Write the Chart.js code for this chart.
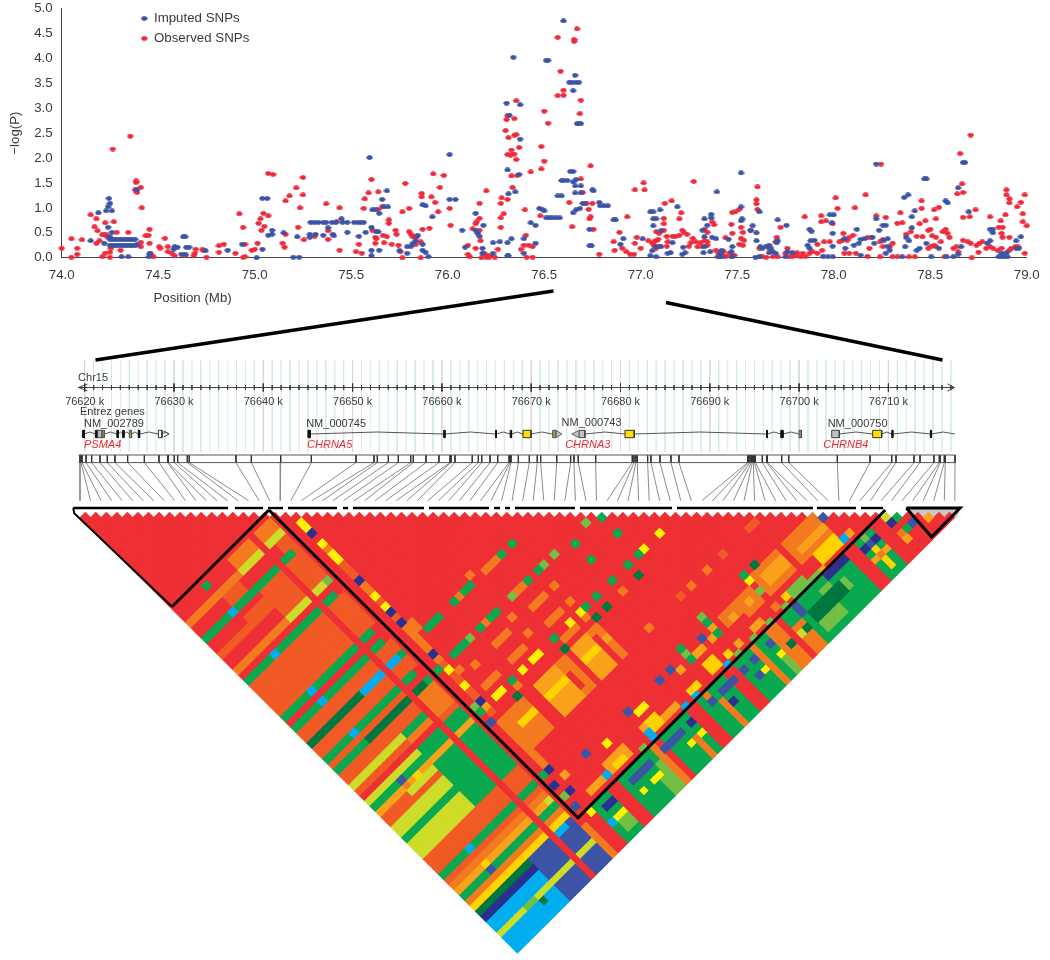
<!DOCTYPE html>
<html><head><meta charset="utf-8">
<style>html,body{margin:0;padding:0;background:#fff;width:1050px;height:960px;overflow:hidden}
#wrap{position:relative;width:1050px;height:960px}
canvas{position:absolute;left:0;filter:blur(.3px)}
#low{top:280px}#top{top:0}</style>
<script src="https://cdn.jsdelivr.net/npm/chart.js@4/dist/chart.umd.js"></script>
</head><body><div id="wrap"><canvas id="low" width="1050" height="680" style="width:1050px;height:680px"></canvas><canvas id="top" width="1050" height="320" style="width:1050px;height:320px"></canvas></div>
<script>
// ---------- Manhattan panel data (position in Mb, -log P) ----------
const imputedSNPs=[[74.19,.9],[74.245,1.19],[74.25,1.09],[74.24,1.02],[74.23,.94],[74.26,.94],[74.24,.61],[74.15,.34],[74.22,.29],
[74.25,.37],[74.262,.37],[74.274,.37],[74.286,.37],[74.298,.37],[74.31,.37],[74.322,.37],[74.334,.37],[74.346,.37],[74.358,.37],[74.37,.37],[74.38,.37],
[74.25,.25],[74.262,.25],[74.274,.25],[74.286,.25],[74.298,.25],[74.31,.25],[74.322,.25],[74.334,.25],[74.346,.25],[74.358,.25],[74.37,.25],[74.382,.25],[74.39,.26],
[74.26,.51],[74.25,.42],[74.31,.02],[74.345,.02],[74.39,1.36],[74.455,.08],[74.452,.02],[74.585,.22],[74.6,.21],[74.58,.17],[74.63,.42],[74.64,.42],[74.645,.21],[74.66,.21],[74.62,.07],[74.64,.07],[74.745,.14],[74.86,.15],[74.935,.27],[75.01,0],[75.04,1.19],[75.065,1.19],[75.04,.17],[75.09,.55],[75.07,.45],[75.09,.47],[75.15,.5],[75.22,.42],[75.2,.01],[75.23,.01],
[75.29,.71],[75.31,.71],[75.33,.71],[75.355,.71],[75.37,.71],[75.4,.71],[75.42,.71],[75.285,.47],[75.285,.41],[75.315,.47],[75.355,.45],[75.38,.6],[75.405,.47],[75.41,.44],[75.45,.78],[75.455,.71],[75.48,.71],[75.515,.71],[75.535,.71],[75.55,.71],[75.565,.71],[75.48,.51],[75.54,.43],[75.575,.51],[75.595,2.01],[75.605,.61],[75.63,.52],[75.64,.52],[75.605,.15],[75.605,.04],[75.645,.15],[75.61,.96],[75.625,.96],[75.645,.89],[75.66,1.17],[75.67,1.02],[75.69,1.02],[75.685,1.34],[75.75,.14],[75.79,.09],[75.79,.22],[75.81,.23],[75.82,.29],[75.835,.34],[75.845,.45],[75.87,.27],[75.87,.15],[75.885,.11],[75.9,.02],[75.87,1.06],[75.885,1.04],[75.92,.82],[76.01,2.07],[76.01,1.17],[76.04,1.17],[76.075,.55],[76.09,.21],[76.145,.89],[76.145,.55],[76.155,.49],[76.165,.43],[76.185,.65],[76.18,.19],[76.18,.09],[76.235,.3],[76.27,.32],[76.31,.3],[76.33,.38],[76.31,.04],[76.315,.04],[76.235,.09],[76.305,3.1],[76.32,2.86],[76.375,3.07],[76.34,4.02],[76.375,2.38],[76.31,1.76],[76.37,1.67],[76.315,1.28],[76.35,1.32],[76.395,.38],[76.395,.09],[76.43,.7],[76.455,.65],[76.455,.29],[76.475,.99],
[76.51,3.96],[76.52,3.96],[76.6,4.75],[76.66,3.66],[76.63,3.52],[76.645,3.52],[76.665,3.52],[76.68,3.52],[76.65,3.35],[76.67,2.69],[76.68,2.69],[76.69,2.69],[76.49,.97],[76.5,.94],[76.51,.8],[76.525,.8],[76.54,.8],[76.56,.8],[76.58,.8],[76.635,1.73],[76.65,1.73],[76.59,1.55],[76.6,1.55],[76.62,1.55],[76.65,1.52],[76.665,1.57],[76.57,1.24],[76.59,1.24],[76.66,1.44],[76.69,1.44],[76.66,1.3],[76.69,1.3],[76.75,1.36],[76.755,1.34],[76.7,1.09],[76.71,1.09],[76.65,.9],[76.665,.96],[76.685,.99],[76.785,1.11],[76.79,1.04],[76.81,1.04],[76.83,1.04],[76.735,.57],[76.735,.24],[76.745,.24],[76.86,.76],[76.87,.76],[76.91,.38],[76.895,.27],[77.01,.38],[77.05,.92],[77.065,.92],[77.065,.78],[77.08,.78],[77.1,.96],[77.065,.64],[77.105,.54],[77.05,.04],[77.08,.02],[77.06,.14],[77.19,1.02],[77.155,.1],[77.14,.09],[77.22,.21],[77.215,.07],[77.23,.1],[77.08,.22],[77.105,.22],[77.165,.3],[77.33,.78],[77.365,.87],[77.365,.8],[77.345,.65],[77.32,.55],[77.33,.42],[77.37,.41],[77.39,.38],[77.395,1.32],[77.33,.22],[77.325,.1],[77.36,.12],[77.405,.02],[77.41,.02],[77.42,.02],[77.415,.1],[77.42,.15],[77.455,.37],[77.475,.22],[77.47,.12],[77.475,.02],[77.52,1.7],[77.52,1.02],[77.525,.78],[77.52,.74],[77.58,.64],[77.57,.55],[77.6,.5],[77.6,.34],[77.615,.92],[77.71,.76],[77.755,.65],[77.595,.01],[77.615,.02],[77.62,.22],[77.65,.23],[77.665,.25],[77.675,.19],[77.63,.19],[77.665,.1],[77.685,.12],[77.7,.09],[77.71,.34],[77.705,.3],[77.76,.12],[77.785,.1],[77.75,.02],[77.875,.57],[77.885,.53],[77.88,.34],[77.9,.35],[77.865,.25],[77.875,.19],[77.945,.03],[77.97,.02],[77.995,.02],[77.98,.86],[78,.86],[77.99,.7],[77.995,.49],[77.995,.23],[78.06,.19],[78.055,.38],[78.105,.25],[78.12,.57],[78.13,.29],[78.14,.37],[78.16,.38],[78.14,.05],[78.2,.41],[78.21,.29],[78.235,.55],[78.22,.78],[78.22,1.88],[78.255,.65],[78.27,.65],[78.28,.38],[78.26,.35],[78.28,.23],[78.27,.09],[78.29,.15],[78.355,.02],[78.365,1.21],[78.385,1.26],[78.375,.41],[78.39,.34],[78.37,.22],[78.405,.82],[78.42,.94],[78.405,.6],[78.43,.15],[78.445,.19],[78.47,1.58],[78.48,1.58],[78.48,.29],[78.505,.02],[78.545,.19],[78.58,1.14],[78.59,1.1],[78.585,.02],[78.62,.02],[78.645,.07],[78.66,.22],[78.645,1.4],[78.67,1.91],[78.68,1.91],[78.7,.92],[78.81,.57],[78.825,.57],[78.825,.5],[78.81,.34],[78.795,.29],[78.855,.02],[78.87,.02],[78.885,.02],[78.9,.02],[78.87,.09],[78.895,.1],[78.945,.34],[78.97,.42],[78.945,.19],[78.96,.19]];
const observedSNPs=[[74,.19],[74.05,.01],[74.05,.38],[74.08,.19],[74.08,.07],[74.105,.36],[74.15,.86],[74.18,.78],[74.17,.62],[74.185,.54],[74.225,.7],[74.27,.72],[74.21,.46],[74.23,.46],[74.195,.34],[74.18,.29],[74.22,.46],[74.235,.42],[74.265,2.18],[74.355,2.44],[74.285,.51],[74.345,.51],[74.21,.02],[74.225,.09],[74.25,.11],[74.25,.01],[74.255,.19],[74.305,.15],[74.385,1.54],[74.385,1.51],[74.41,1.41],[74.38,1.36],[74.39,1.31],[74.415,1],[74.455,.57],[74.435,.44],[74.45,.45],[74.41,.31],[74.41,.22],[74.455,.29],[74.46,.09],[74.475,.02],[74.465,.04],[74.505,.22],[74.51,.19],[74.535,.39],[74.55,.22],[74.55,.12],[74.57,.09],[74.585,.04],[74.64,.04],[74.685,.04],[74.695,.17],[74.69,.09],[74.73,.17],[74.735,.14],[74.75,.01],[74.815,.24],[74.84,.27],[74.815,.11],[74.9,.09],[74.92,.88],[74.94,.61],[74.94,.01],[74.95,.02],[74.95,.27],[74.985,.15],[75,.17],[75.015,.29],[75.02,.69],[75.03,.78],[75.045,.89],[75.07,.84],[75.035,.55],[75.05,.63],[75.07,1.69],[75.095,1.67],[75.16,1.14],[75.18,1.24],[75.215,1.4],[75.25,1.26],[75.25,1.61],[75.235,1],[75.16,.47],[75.145,.29],[75.155,.21],[75.225,.61],[75.255,.36],[75.31,.43],[75.37,1.08],[75.38,.54],[75.38,.37],[75.425,.72],[75.44,1],[75.44,.15],[75.525,.12],[75.54,.27],[75.555,.09],[75.57,1.18],[75.565,.99],[75.59,1.3],[75.605,1.57],[75.61,.55],[75.625,.41],[75.64,1.32],[75.64,.97],[75.625,.29],[75.63,.38],[75.66,1.02],[75.665,.45],[75.67,.3],[75.685,.42],[75.695,.76],[75.695,.69],[75.71,.27],[75.73,.55],[75.735,.47],[75.745,.25],[75.755,.12],[75.765,.92],[75.765,0],[75.78,1.49],[75.8,.99],[75.8,.52],[75.81,.47],[75.82,.42],[75.83,.41],[75.84,.42],[75.86,.32],[75.835,.27],[75.86,0],[75.865,1.29],[75.865,1.22],[75.87,.57],[75.905,.59],[75.915,1.22],[75.925,1.68],[75.935,1.11],[75.95,.92],[75.96,1.41],[75.98,1.65],[76.01,.99],[76.015,.65],[76.105,.25],[76.105,.07],[76.115,.02],[76.145,.19],[76.13,.58],[76.145,.68],[76.15,.72],[76.165,1.09],[76.165,.79],[76.165,.55],[76.17,.34],[76.175,0],[76.19,.09],[76.2,.01],[76.21,.04],[76.215,.01],[76.23,.04],[76.245,.01],[76.2,1.34],[76.26,.17],[76.275,.61],[76.275,.8],[76.29,.88],[76.28,1.2],[76.275,1.09],[76.31,1.17],[76.336,1.41],[76.355,3.15],[76.305,2.77],[76.31,2.85],[76.345,2.79],[76.3,2.55],[76.315,2.41],[76.345,2.46],[76.355,2.47],[76.37,2.21],[76.33,2.16],[76.31,2.07],[76.325,2.06],[76.345,2.08],[76.355,1.97],[76.33,1.64],[76.36,1.65],[76.4,.96],[76.43,1.72],[76.405,.45],[76.38,.17],[76.395,.25],[76.42,.25],[76.44,.22],[76.41,.01],[76.44,.01],
[76.57,4.42],[76.67,4.59],[76.655,4.38],[76.655,4.34],[76.585,3.74],[76.6,3.36],[76.6,3.26],[76.57,3.25],[76.69,3.16],[76.5,2.94],[76.52,2.7],[76.685,2.89],[76.485,2.23],[76.5,1.94],[76.485,1.78],[76.74,1.84],[76.69,1.58],[76.7,1.31],[76.63,1.11],[76.72,1.09],[76.75,1.09],[76.73,.97],[76.74,.82],[76.735,.78],[76.755,.57],[76.645,.62],[76.48,.84],[76.785,.07],[76.86,.32],[76.865,.15],[76.89,.51],[76.905,.19],[76.925,.12],[76.945,.07],[76.965,.07],[76.93,.82],[76.97,1.36],[77.015,1.5],[77.02,1.36],[76.98,.41],[76.97,.29],[77,.19],
[77.04,.34],[77.06,.29],[77.07,.32],[77.08,.34],[77.09,.37],[77.07,.23],[77.08,.19],[77.095,.23],[77.12,.79],[77.12,.68],[77.08,.52],[77.095,.49],[77.12,.55],[77.125,1.09],[77.16,1.14],[77.21,.9],[77.2,.78],[77.135,.43],[77.14,.32],[77.165,.43],[77.18,.43],[77.2,.45],[77.135,.23],[77.215,.55],[77.225,.5],[77.24,.47],[77.27,.39],[77.26,.3],[77.25,.23],[77.275,1.53],[77.285,.32],[77.31,.3],[77.33,.34],[77.345,.32],[77.295,.22],[77.32,.22],[77.345,.25],[77.33,.57],[77.345,.51],[77.37,.72],[77.38,.66],[77.44,.4],[77.47,.67],[77.475,.91],[77.49,.92],[77.51,.97],[77.475,.49],[77.52,.61],[77.53,.51],[77.52,.39],[77.535,.35],[77.51,.27],[77.53,.25],[77.57,.55],[77.6,1.16],[77.6,1.08],[77.605,1.42],[77.605,.97],[77.39,.15],[77.405,.09],[77.42,.05],[77.43,.12],[77.44,.03],[77.46,.09],[77.47,.02],[77.485,.05],[77.4,.02],[77.725,.61],[77.705,.41],[77.7,.32],[77.615,.19],[77.665,.19],[77.71,.02],[77.685,.02],[77.63,.02],[77.65,.01],[77.76,.19],[77.75,.09],[77.77,.02],[77.805,.05],[77.83,.02],[77.84,.09],[77.855,.03],[77.875,.09],[77.89,.12],[77.915,.09],[77.94,.15],[77.81,.1],[77.785,.03],[77.85,.82],[77.915,.27],[77.95,.32],[77.98,.32],[77.935,.84],[77.935,.72],[77.96,.74],[77.995,.68],[78.01,1.2],[78.02,.99],[78.03,.32],[78.045,.35],[78.05,.49],[78.07,.35],[78.08,.41],[78.1,.45],[78.055,.09],[78.08,.09],[78.115,.09],[78.11,1],[78.165,1.26],[78.175,.4],[78.195,.41],[78.185,.19],[78.175,.03],[78.22,.84],[78.27,.81],[78.245,1.88],[78.24,.32],[78.255,.37],[78.29,.22],[78.305,.29],[78.33,.69],[78.355,.7],[78.345,.9],[78.24,.02],[78.255,.22],[78.305,.02],[78.33,.02],[78.39,.02],[78.42,.02],[78.375,.47],[78.4,.52],[78.43,.43],[78.46,.42],[78.445,.68],[78.475,.74],[78.455,.99],[78.455,1.14],[78.49,.55],[78.5,.57],[78.53,.41],[78.51,.44],[78.53,.78],[78.52,.96],[78.545,1.01],[78.52,.25],[78.53,.22],[78.505,.23],[78.49,.19],[78.565,.52],[78.58,.57],[78.59,.49],[78.6,.41],[78.555,.32],[78.575,.02],[78.62,.19],[78.635,.22],[78.645,.12],[78.64,1.28],[78.655,2.09],[78.665,1.48],[78.67,1.31],[78.71,2.46],[78.67,.81],[78.705,.82],[78.735,.96],[78.67,.35],[78.695,.32],[78.71,.29],[78.74,.25],[78.715,0],[78.81,.82],[78.865,.74],[78.855,.61],[78.875,.61],[78.87,.49],[78.875,.41],[78.91,.41],[78.895,1.36],[78.895,1.26],[78.91,1.18],[78.91,1.1],[78.97,1.11],[78.99,1.26],[78.95,1.02],[78.89,.86],[78.98,.88],[78.98,.72],[79,.64],[78.755,.29],[78.77,.32],[78.79,.19],[78.81,.22],[78.825,.19],[78.75,.11],[78.85,.15],[78.87,.19],[78.91,.15],[78.94,.22],[78.955,.22],[78.99,.09],[78.92,.19]];
const legendNames=['Imputed SNPs','Observed SNPs'];

// ---------- Gene track data (kb on chr15) ----------
const kbTickLabels=[76620,76630,76640,76650,76660,76670,76680,76690,76700,76710];
const snpPositionsKb=[76619.47,76619.59,76619.7,76620.15,76620.78,76621.71,76622.53,76623.39,76624.81,76626.68,76628.32,76629.29,76629.36,76630.03,76630.41,76631.49,76631.71,76636.94,76638.66,76641.95,76645.38,76650.38,76652.4,76652.77,76654,76655.12,76656.51,76656.8,76658.22,76659.67,76660.91,76661.02,76661.47,76663.4,76664.08,76664.46,76665.39,76666.25,76667.52,76667.63,76667.74,76668.56,76669.79,76670.68,76671.06,76672.86,76674.42,76674.79,76675.27,76677.22,76681.32,76681.51,76681.73,76681.88,76683.04,76683.41,76684.42,76685.65,76686.55,76694.24,76694.36,76694.5,76694.65,76694.76,76694.87,76694.99,76695.1,76695.88,76696.37,76696.44,76698.05,76698.84,76704.28,76707.94,76710.37,76710.85,76712.87,76713.54,76715.1,76715.7,76715.81,76716.26,76716.37,76717.46];
const genePSMA4=[[76619.75,76619.95,'k'],[76621.2,76621.45,'k'],[76621.45,76621.95,'g'],[76621.95,76622.2,'o'],[76623.6,76623.75,'k'],[76624.25,76624.4,'k'],[76625,76625.25,'o'],[76626,76626.15,'k'],[76628.25,76628.65,'w']];
const genePSMA4End=76629.44;
const geneCHRNA5=[[76645.0,76645.25,'k'],[76660.2,76660.35,'k'],[76666,76666.1,'k'],[76667.65,76667.8,'k'],[76669.08,76669.98,'y'],[76672.4,76672.8,'o']];
const geneCHRNA5Tip=76673.45;
const geneCHRNA3=[[76675.35,76676.02,'g'],[76680.5,76681.54,'y'],[76696.35,76696.45,'k'],[76697.95,76698.2,'k'],[76700,76700.25,'g']];
const geneCHRNA3Tip=76674.54;
const geneCHRNB4=[[76703.65,76704.5,'g'],[76708.24,76709.25,'y'],[76710.38,76710.5,'k'],[76714.7,76714.8,'k']];
const geneCHRNB4End=76717.46;
const trackLabels=[['Chr15',76619.26,378,'n'],['Entrez genes',76619.47,412,'n'],['NM_002789',76619.92,423.5,'n'],['PSMA4',76619.92,445,'r'],['NM_000745',76644.8,423.5,'n'],['CHRNA5',76644.9,444.5,'r'],['NM_000743',76673.4,422.5,'n'],['CHRNA3',76673.8,445,'r'],['NM_000750',76703.2,423.5,'n'],['CHRNB4',76702.7,445,'r']];

// ---------- LD matrix: level colours and the patches ----------
const ldColours={R:'#ee3035',S:'#f15a25',O:'#f47a20',A:'#f9a11b',Y:'#ffd200',T:'#fff100',L:'#cddc29',E:'#72bf44',G:'#0aa84f',D:'#00773f',C:'#00aeef',B:'#3b54a4',N:'#2a3090'};
const snpCount=84;
const patchesLeft=[[5,5,19,19,'G'],[10,13,19,20,'O'],[15,17,19,20,'O'],[0,9,21,21,'O'],[10,13,21,21,'L'],[15,16,21,21,'L'],[17,17,21,21,'L'],[16,17,22,24,'S'],[15,16,24,24,'G'],[0,13,24,24,'G'],[5,5,24,24,'C'],[6,8,22,23,'S'],[10,13,25,29,'S'],[15,17,25,29,'S'],[6,9,26,27,'S'],[0,9,27,27,'S'],[0,9,30,30,'O'],[10,13,30,30,'L'],[15,16,30,30,'L'],[17,17,30,30,'E'],[0,13,32,32,'G'],[5,5,32,32,'C'],[15,16,32,32,'G'],[0,13,33,38,'S'],[15,17,33,38,'S'],[0,13,39,39,'G'],[5,5,39,39,'C'],[15,16,39,39,'G'],[0,13,41,41,'G'],[5,5,41,41,'C'],[15,16,41,41,'G'],[0,13,42,43,'S'],[15,17,42,43,'S'],[0,9,44,44,'D'],[10,13,44,44,'C'],[15,16,44,44,'C'],[17,17,44,44,'G'],[0,13,45,46,'S'],[15,17,45,46,'S'],[0,13,47,47,'G'],[5,5,47,47,'C'],[15,16,47,47,'G'],[0,13,48,48,'S'],[0,5,49,49,'G'],[6,13,49,49,'D'],[15,16,49,49,'D'],[17,17,49,49,'G'],[0,13,50,51,'S'],[15,17,50,52,'O'],[0,9,52,52,'L'],[10,13,52,52,'G'],[0,13,53,53,'S'],[10,13,53,53,'O'],[15,17,53,53,'O'],[15,17,54,54,'S'],[0,9,55,55,'L'],[10,13,55,55,'G'],[15,17,55,56,'G'],[0,13,56,56,'G'],[5,5,56,56,'B'],[0,13,57,57,'A'],[5,5,57,57,'O'],[7,7,57,57,'Y'],[15,17,57,57,'A'],[5,9,58,58,'L'],[0,4,58,58,'S'],[10,13,58,58,'G'],[15,17,58,58,'G'],[0,9,59,59,'S'],[10,13,59,65,'G'],[15,17,59,65,'G'],[0,9,60,61,'L'],[0,9,62,62,'G'],[0,9,63,65,'L'],[0,13,66,68,'S'],[15,17,66,68,'S'],[0,13,69,69,'G'],[5,5,69,69,'C'],[15,17,69,69,'G'],[0,13,70,70,'S'],[15,17,70,70,'S'],[0,13,71,71,'O'],[15,17,71,71,'O'],[0,13,72,72,'A'],[15,16,72,72,'A'],[17,17,72,72,'L'],[5,5,72,72,'Y'],[0,13,73,73,'G'],[15,17,73,73,'G'],[5,5,73,73,'B'],[0,13,74,74,'O'],[15,17,74,74,'O'],[0,13,75,75,'Y'],[15,17,75,75,'Y'],[0,9,76,76,'D'],[10,13,76,83,'B'],[0,9,77,77,'N'],[0,9,78,79,'C'],[0,13,80,80,'L'],[5,6,80,80,'E'],[0,9,81,83,'C'],[7,7,81,81,'D'],[15,16,76,76,'C'],[17,17,76,76,'B'],[15,17,77,79,'B'],[15,17,80,80,'L'],[15,17,81,83,'B']];
const patchesBlock=[[20,20,30,58,'S'],[20,20,22,23,'T'],[20,20,24,24,'N'],[20,20,26,26,'T'],[20,20,27,27,'O'],[20,20,28,29,'T'],[20,20,33,33,'N'],[20,20,34,35,'O'],[20,20,36,36,'T'],[20,20,38,38,'T'],[20,20,39,39,'N'],[20,20,41,41,'N'],[20,20,42,46,'O'],[21,21,42,43,'O'],[20,20,47,47,'N'],[20,20,48,48,'O'],[20,20,50,50,'T'],[21,21,51,51,'O'],[20,20,53,53,'T'],[23,23,52,52,'O'],[20,20,56,56,'N'],[20,20,57,57,'A'],[19,19,56,56,'E'],[19,19,57,57,'G'],[19,19,59,59,'B'],[19,19,49,49,'G'],[22,24,44,44,'G'],[31,31,43,43,'O'],[27,27,44,44,'G'],[28,28,44,44,'O'],[29,30,44,44,'G'],[33,35,44,44,'O'],[36,36,44,44,'G'],[38,38,44,44,'G'],
[22,24,49,49,'G'],[25,25,49,49,'E'],[27,27,49,49,'G'],[28,28,49,49,'O'],[29,30,49,49,'G'],[33,33,49,49,'E'],[34,35,49,49,'O'],[36,36,49,49,'G'],[38,38,49,49,'G'],[39,39,49,49,'E'],[41,41,49,49,'E'],[47,47,49,49,'E'],[49,49,50,50,'G'],[44,44,50,50,'G'],[49,49,53,53,'G'],[44,44,53,53,'G'],[53,53,57,57,'T'],[47,47,57,57,'G'],[49,49,57,57,'G'],[50,50,57,57,'T'],[47,47,59,59,'D'],[44,44,57,57,'G'],[44,44,59,59,'O'],[41,41,57,57,'G'],[38,38,52,52,'O'],[34,36,52,52,'O'],[38,38,55,55,'O'],[39,39,57,57,'G'],[38,38,57,57,'T'],[41,41,59,59,'D'],[39,39,59,59,'D'],[38,38,58,58,'O'],[34,36,55,55,'O'],[36,36,57,57,'T'],[34,36,58,58,'O'],[33,33,57,57,'G'],[33,33,59,59,'D'],[31,31,51,51,'O'],[27,29,52,52,'O'],[31,31,54,54,'O'],[27,29,55,55,'O'],[29,30,57,57,'T'],[25,25,57,57,'G'],[22,23,57,57,'T'],[27,27,57,57,'T'],[24,24,59,59,'D'],[25,25,58,58,'O'],[22,24,55,55,'O'],
[34,36,60,65,'A'],[38,38,60,65,'O'],[34,36,62,62,'Y'],[37,37,60,60,'O'],[38,38,62,62,'A'],[27,30,60,65,'A'],[32,32,60,65,'O'],[31,31,60,61,'O'],[31,31,65,65,'O'],[27,30,62,62,'Y'],[21,24,60,65,'O'],[22,24,62,62,'Y'],[20,20,62,62,'A'],[20,20,60,68,'O'],
[41,41,71,71,'B'],[39,39,71,71,'B'],[42,42,72,72,'A'],[33,33,71,71,'B'],[34,35,72,72,'T'],[25,25,71,71,'B'],[28,28,72,72,'T'],[26,29,74,75,'A'],[27,28,75,75,'Y'],[22,24,75,75,'A'],[25,25,75,75,'C'],[33,33,75,75,'C'],[31,31,76,76,'E'],[34,35,74,75,'Y'],[33,33,74,74,'A'],[36,36,75,75,'A'],[33,33,76,76,'C'],[37,38,75,75,'A'],[39,39,76,76,'C'],[41,42,75,75,'Y'],[41,41,76,76,'C'],[45,46,74,75,'Y'],[47,47,76,76,'C'],[48,48,75,75,'Y'],[49,49,76,76,'E'],[50,50,75,75,'A'],[52,52,76,76,'E'],[53,54,75,75,'A'],[55,55,76,76,'E'],[57,57,75,75,'O'],[58,58,76,76,'E'],[59,59,75,75,'Y'],[60,62,75,76,'E'],[62,65,76,76,'E'],[65,65,76,76,'A'],
[20,20,69,69,'N'],[19,19,71,71,'N'],[20,20,73,73,'N'],[19,19,73,73,'E'],[21,21,71,71,'A'],[19,19,75,75,'B'],[19,19,69,69,'G'],
[62,63,65,65,'S'],[57,57,65,65,'S'],[54,54,65,65,'O'],[51,51,65,65,'O'],[49,49,65,65,'S'],[43,43,65,65,'O'],[70,70,71,71,'B'],[71,71,75,75,'A'],[70,70,75,75,'C'],[64,69,70,73,'O'],[65,69,72,72,'A'],[66,69,74,75,'Y'],[59,59,69,69,'D'],[57,57,69,69,'G'],[57,57,70,70,'T'],[57,57,72,72,'E'],[58,62,70,73,'O'],[59,62,71,72,'A'],[54,56,71,73,'O'],[55,55,72,72,'A'],[51,53,71,72,'O'],[52,52,72,72,'A'],[49,49,69,69,'E'],[49,49,70,70,'G'],[49,49,71,71,'A'],[49,49,72,72,'G'],[48,48,72,72,'A'],[47,47,71,71,'B'],[44,44,70,70,'G'],[44,44,71,71,'E'],[44,44,72,72,'G'],[45,46,72,72,'A']];
const patchesRight=[[21,73,77,83,'G'],[19,20,77,83,'R'],[18,18,78,83,'O'],[24,25,77,83,'R'],[32,32,77,83,'O'],[33,33,77,83,'R'],[31,31,79,81,'E'],[30,31,81,83,'E'],[37,37,80,83,'O'],[39,40,77,83,'R'],[42,42,77,77,'O'],[43,43,79,83,'O'],[46,47,77,83,'R'],[51,51,77,83,'O'],[54,55,77,83,'O'],[56,56,77,83,'R'],[57,58,79,83,'O'],[69,70,77,83,'R'],[60,63,80,82,'E'],[60,61,79,80,'D'],[62,65,79,80,'D'],[66,66,79,80,'E'],[63,64,78,78,'E'],[65,68,77,77,'N'],[59,59,77,78,'B'],[58,58,80,80,'D'],[57,57,80,80,'L'],[53,53,78,78,'B'],[55,55,80,80,'D'],[53,53,80,80,'T'],[50,50,78,78,'B'],[50,50,80,80,'T'],[48,48,78,78,'B'],[49,49,80,80,'B'],[44,46,78,78,'B'],[44,44,80,80,'N'],[42,42,78,78,'B'],[53,53,81,83,'E'],[22,23,78,78,'N'],[20,20,77,77,'T'],[22,23,80,80,'T'],[21,21,80,80,'C'],[22,23,81,82,'E'],[27,27,80,80,'T'],[29,30,80,80,'T'],[36,36,80,80,'T'],[38,38,80,80,'T'],[38,38,78,78,'N'],[33,36,78,78,'B'],[27,30,78,78,'B'],
[76,76,77,77,'L'],[77,77,78,78,'G'],[76,76,78,78,'N'],[78,78,80,80,'B'],[77,77,80,80,'G'],[76,76,80,80,'O'],[76,76,81,81,'A'],[73,73,77,77,'G'],[72,72,77,77,'E'],[73,73,78,78,'N'],[72,72,78,78,'B'],[71,71,78,78,'N'],[73,73,79,79,'G'],[72,72,79,79,'Y'],[71,71,79,79,'G'],[73,73,80,80,'A'],[72,72,80,80,'O'],[71,71,80,80,'A'],[72,72,81,82,'Y'],[73,73,81,82,'G'],[71,71,81,82,'G'],[80,80,81,81,'A']];

const headerBars=[[-.64,14.04],[14.7,17.36],[17.84,19.26],[19.73,24.38],[24.95,25.43],[25.9,32.64],[33.11,38.8],[39.28,39.85],[40.32,40.8],[41.27,46.96],[47.44,56.17],[56.64,69.54],[69.92,73.62],[74.1,76.2]];
const ldBlocks=[[[8.73,17],[17.93,-1.43]],[[17.93,-1.43],[47.25,57.2],[76.4,-1.43]],[[78.4,-1.8],[80.8,3.7],[83.5,-1.8],[78.4,-1.8]]];
const ldBlockThin=[[-.64,-1.8],[-.55,-.8],[8.73,17]];

// ---------- page geometry (layout only) ----------
const P={kbZero:84.7,pxPerKb:8.93,snpZero:80,pxPerSnp:10.54,depthZero:517.5,pxPerDepth:5.25,canvasTop:280,width:1050,height:960};
const kbOfPx=p=>76620+(p-P.kbZero)/P.pxPerKb;
const snpOfPx=p=>(p-P.snpZero)/P.pxPerSnp;
const depthOfPy=p=>(p-P.depthZero)/P.pxPerDepth;
const kbOfSnp=k=>kbOfPx(P.snpZero+k*P.pxPerSnp);
const FONT='"Liberation Sans", Arial, sans-serif';
const INK='#3a3a3a',FS=13.3;
Chart.defaults.font.family=FONT;Chart.defaults.color=INK;Chart.defaults.animation=false;

function marker(col){const c=document.createElement('canvas');c.width=7;c.height=5;const g=c.getContext('2d');g.fillStyle=col;g.beginPath();g.moveTo(0,2.5);g.lineTo(2,.3);g.lineTo(5,.3);g.lineTo(7,2.5);g.lineTo(5,4.7);g.lineTo(2,4.7);g.closePath();g.fill();return c;}
const toPts=a=>a.map(p=>({x:p[0],y:p[1]}));

const legendPlace={id:'legendPlace',afterLayout(ch){if(ch.legend){ch.legend.left=134.6;ch.legend.top=5.1;ch.legend.bottom=60;}}};
const xTitle={id:'xTitle',afterDraw(ch){const c=ch.ctx;c.save();c.font=FS+'px '+FONT;c.fillStyle=INK;c.textAlign='center';c.textBaseline='middle';c.fillText('Position (Mb)',192.6,298);c.restore();}};

new Chart(document.getElementById('top'),{type:'scatter',plugins:[legendPlace,xTitle],
 data:{datasets:[
  {label:legendNames[0],data:toPts(imputedSNPs),pointStyle:marker('#3b53a6'),pointRadius:3,backgroundColor:'#3b53a6',borderColor:'#3b53a6'},
  {label:legendNames[1],data:toPts(observedSNPs),pointStyle:marker('#ee2a3a'),pointRadius:3,backgroundColor:'#ee2a3a',borderColor:'#ee2a3a'}]},
 options:{responsive:false,events:[],animation:false,clip:false,layout:{autoPadding:false,padding:{left:0,top:8.5,right:23.3,bottom:0}},
  plugins:{tooltip:{enabled:false},title:{display:false},
   legend:{display:true,position:'chartArea',align:'start',labels:{usePointStyle:true,pointStyleWidth:6,boxWidth:6,padding:6.7,color:INK,font:{size:FS,family:FONT}}}},
  scales:{
   x:{type:'linear',min:74,max:79,afterFit:s=>{s.height=62.3;s.paddingLeft=0;s.paddingRight=0;},grid:{display:false,drawTicks:true,tickLength:4,tickColor:'#444'},border:{display:true,color:'#444',width:1},
      ticks:{stepSize:.5,padding:6,color:INK,font:{size:FS,family:FONT},callback:v=>Number(v).toFixed(1),maxRotation:0,autoSkip:false}},
   y:{type:'linear',min:0,max:5,afterFit:s=>{s.width=61.7;s.paddingTop=0;s.paddingBottom=0;},grid:{display:false,drawTicks:true,tickLength:5,tickColor:'#444'},border:{display:true,color:'#444',width:1},
      title:{display:true,text:'−log(P)',color:INK,font:{size:FS,family:FONT},padding:{top:7,bottom:0}},
      ticks:{stepSize:.5,padding:4,color:INK,font:{size:FS,family:FONT},callback:v=>Number(v).toFixed(1)}}}}});

// ---------- lower panel ----------
const sets=[];
const kbLine=(pts,col,w)=>sets.push({data:pts.map(p=>p?{x:p[0],y:p[1]}:{x:null,y:null}),xAxisID:'x',yAxisID:'yTrack',showLine:true,spanGaps:false,borderColor:col,borderWidth:w,pointRadius:0,fill:false,tension:0});
const kbPoly=(pts,stroke,fillc,w)=>sets.push({data:pts.map(p=>({x:p[0],y:p[1]})),xAxisID:'x',yAxisID:'yTrack',showLine:true,borderColor:stroke,borderWidth:w,pointRadius:0,fill:'shape',backgroundColor:fillc,tension:0});
const snpLine=(pts,col,w)=>sets.push({data:pts.map(p=>p?{x:p[0],y:p[1]}:{x:null,y:null}),xAxisID:'xSnp',yAxisID:'yDepth',showLine:true,spanGaps:false,borderColor:col,borderWidth:w,pointRadius:0,fill:false,tension:0,borderJoinStyle:'miter',borderCapStyle:'butt'});

const KB0=76620,KB1=76717,stripeA=[],stripeB=[],stripeM=[],tickA=[],tickM=[];
for(let k=KB0;k<=KB1;k++){const t=k%10===0?stripeM:(k%2?stripeA:stripeB);t.push([k,360],[k,452],null);
 (k%10===0?tickM:tickA).push([k,k%10===0?383.5:385],[k,k%10===0?391.5:390],null);}
kbLine(stripeA,'#d3ebe7',1);kbLine(stripeB,'#e2efec',1);kbLine(stripeM,'#d9d9d9',1);

kbLine([[76619.3,387.5],[76717.4,387.5]],'#444',1);kbLine(tickA,'#444',1);kbLine(tickM,'#333',1);
kbLine([[76620.3,384.2],[76619.3,387.5],[76620.3,390.8]],'#444',1);
kbLine([[76716.6,383.8],[76717.4,387.5],[76716.6,391.2]],'#444',1);
kbLine([[kbOfPx(553.5),291],[kbOfPx(95.5),360]],'#000',3.4);
kbLine([[kbOfPx(666),302.5],[kbOfPx(942.5),360]],'#000',3.4);

const exonStyle={k:['#111','#111'],g:['#444','#c2c2c2'],y:['#333','#ffdf00'],o:['#555','#9aa03a'],w:['#333','#fff']};
const TR=434;
function drawGene(ex,start,end){
 const spans=ex.map(e=>[e[0],e[1]]);const nodes=[];
 let from=start;
 for(const s of spans){if(s[0]>from){nodes.push([from,TR],[(from+s[0])/2,TR-2],[s[0],TR]);}from=s[1];}
 if(end>from)nodes.push([from,TR],[(from+end)/2,TR-2],[end,TR]);
 kbLine(nodes,'#555',1);
 for(const e of ex){const st=exonStyle[e[2]];kbPoly([[e[0],TR-3.7],[e[1],TR-3.7],[e[1],TR+3.7],[e[0],TR+3.7],[e[0],TR-3.7]],st[0],st[1],1);}
}
drawGene(genePSMA4,genePSMA4[0][0],genePSMA4End);
kbLine([[genePSMA4End-.6,431],[genePSMA4End,TR],[genePSMA4End-.6,437]],'#444',1);
drawGene(geneCHRNA5,geneCHRNA5[0][0],geneCHRNA5[geneCHRNA5.length-1][0]);
kbPoly([[geneCHRNA5[5][1],TR-3.6],[geneCHRNA5Tip,TR],[geneCHRNA5[5][1],TR+3.6],[geneCHRNA5[5][1],TR-3.6]],'#666','#c2c2c2',1);
drawGene(geneCHRNA3,geneCHRNA3[0][0],geneCHRNA3[geneCHRNA3.length-1][1]);
kbPoly([[geneCHRNA3[0][0],TR-3.6],[geneCHRNA3Tip,TR],[geneCHRNA3[0][0],TR+3.6],[geneCHRNA3[0][0],TR-3.6]],'#666','#c2c2c2',1);
drawGene(geneCHRNB4,geneCHRNB4[0][0],geneCHRNB4End);

const ruler=[],links=[];
snpPositionsKb.forEach((kb,k)=>{ruler.push([kb,455],[kb,462.6],null);links.push([kb,462.6],[kbOfSnp(k),500.7],null);});
kbLine(links,'#8c8c8c',1);kbLine(ruler,'#333',1);
kbLine([[kbOfPx(78.5),455],[kbOfPx(955.5),455],null,[kbOfPx(78.5),462.6],[kbOfPx(955.5),462.6]],'#555',1);

sets.push({data:[[78.4,-1.8],[83.5,-1.8],[83.2,0.1],[78.7,0.1],[78.4,-1.8]].map(p=>({x:p[0],y:p[1]})),xAxisID:'xSnp',yAxisID:'yDepth',showLine:true,borderWidth:0,borderColor:'#c9c9c6',pointRadius:0,fill:'shape',backgroundColor:'#c9c9c6'});

const level=[];
for(let a=0;a<snpCount-1;a++){level[a]=[];for(let b=a+1;b<snpCount;b++)level[a][b]='R';}
for(const p of [].concat(patchesLeft,patchesBlock,patchesRight))
 for(let a=p[0];a<=p[1];a++)for(let b=p[2];b<=p[3];b++)if(b>a&&b<snpCount&&a<snpCount-1)level[a][b]=p[4];
const byLevel={};
for(let a=0;a<snpCount-1;a++)for(let b=a+1;b<snpCount;b++){const k=level[a][b];(byLevel[k]=byLevel[k]||[]).push({x:(a+b)/2,y:b-a-1});}
for(const k of Object.keys(ldColours)){if(!byLevel[k])continue;
 sets.push({data:byLevel[k],xAxisID:'xSnp',yAxisID:'yDepth',showLine:false,pointStyle:'rectRot',pointRadius:5.8,pointBorderWidth:0,pointBackgroundColor:ldColours[k],backgroundColor:ldColours[k]});}

for(const h of headerBars)snpLine([[h[0],-1.8],[h[1],-1.8]],'#000',2.4);
ldBlocks.forEach(b=>snpLine(b,'#000',3));
snpLine(ldBlockThin,'#000',2);

sets.forEach((d,i)=>{d.order=-i;});

const labelPlugin={id:'trackLabels',afterDatasetsDraw(ch){const c=ch.ctx,sx=ch.scales.x,sy=ch.scales.yTrack;c.save();c.textBaseline='middle';c.textAlign='left';
 for(const t of trackLabels){c.font=(t[3]==='r'?'italic ':'')+'11px '+FONT;c.fillStyle=t[3]==='r'?'#ed2a30':INK;c.fillText(t[0],sx.getPixelForValue(t[1]),sy.getPixelForValue(t[2]));}c.restore();}};

new Chart(document.getElementById('low'),{type:'scatter',plugins:[labelPlugin],data:{datasets:sets},
 options:{responsive:false,events:[],animation:false,layout:{autoPadding:false,padding:0},plugins:{legend:{display:false},tooltip:{enabled:false},title:{display:false}},
  scales:{
   x:{axis:'x',type:'linear',min:kbOfPx(0),max:kbOfPx(P.width),position:{yTrack:395},afterFit:s=>{s.height=0;s.paddingLeft=0;s.paddingRight=0;},
      grid:{display:false,drawTicks:false},border:{display:false},
      ticks:{z:1,stepSize:10,includeBounds:false,padding:0,autoSkip:false,maxRotation:0,color:INK,font:{size:11,family:FONT},callback:v=>kbTickLabels.includes(v)?v+' k':null}},
   xSnp:{axis:'x',type:'linear',display:false,min:snpOfPx(0),max:snpOfPx(P.width)},
   yTrack:{axis:'y',type:'linear',display:false,min:P.canvasTop,max:P.height,reverse:true},
   yDepth:{axis:'y',type:'linear',display:false,min:depthOfPy(P.canvasTop),max:depthOfPy(P.height),reverse:true}}}});
</script></body></html>
